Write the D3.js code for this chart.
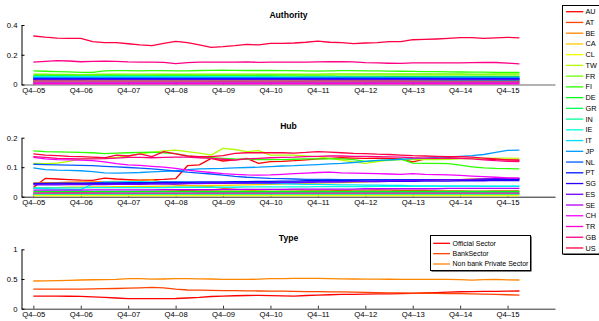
<!DOCTYPE html>
<html><head><meta charset="utf-8">
<script src="https://cdn.jsdelivr.net/npm/d3@7"></script>
<style>body{margin:0;background:#fff}svg{display:block;font-family:"Liberation Sans",Arial,sans-serif}</style>
</head><body><svg id="c" width="599" height="321"></svg>
<script>
const countries = ["AU","AT","BE","CA","CL","TW","FR","FI","DE","GR","IN","IE","IT","JP","NL","PT","SG","ES","SE","CH","TR","GB","US"];
const tickLabels = ["Q4–05","Q4–06","Q4–07","Q4–08","Q4–09","Q4–10","Q4–11","Q4–12","Q4–13","Q4–14","Q4–15"];
const tickQuarter = [0,4,8,12,16,20,24,28,32,36,40];
const typeNames = ["Official Sector","BankSector","Non bank Private Sector"];

// Authority panel, one row per country (Q4-05 ... Q1-16)
const authority = [
/*AU*/[.022, .022,.023,.023,.022, .022,.021,.021,.022, .022,.023,.023,.022, .022,.021,.021,.021, .022,.022,.023,.023, .023,.022,.022,.021, .021,.021,.020,.020, .020,.021,.021,.020, .020,.020,.019,.019, .019,.019,.020,.020, .020],
/*AT*/[.027, .027,.026,.026,.027, .027,.027,.028,.028, .028,.027,.027,.027, .026,.026,.026,.027, .027,.027,.027,.028, .028,.028,.027,.027, .027,.026,.026,.026, .026,.026,.025,.025, .025,.025,.025,.024, .024,.024,.024,.024, .024],
/*BE*/[.018, .018,.018,.019,.019, .019,.019,.020,.020, .020,.020,.019,.019, .019,.019,.018,.018, .018,.018,.018,.018, .017,.017,.017,.017, .017,.017,.017,.016, .016,.016,.016,.016, .016,.016,.016,.015, .015,.015,.015,.015, .015],
/*CA*/[.024, .024,.025,.025,.025, .026,.026,.026,.026, .026,.026,.027,.027, .027,.027,.027,.027, .026,.026,.026,.026, .026,.026,.026,.025, .025,.025,.025,.025, .025,.025,.025,.025, .025,.025,.025,.025, .025,.025,.025,.025, .025],
/*CL*/[.010, .010,.010,.010,.010, .011,.011,.011,.011, .011,.011,.011,.011, .011,.011,.011,.011, .011,.011,.011,.011, .011,.011,.011,.011, .011,.011,.011,.011, .011,.011,.011,.011, .011,.011,.011,.011, .011,.011,.011,.011, .011],
/*TW*/[.062, .062,.061,.061,.060, .061,.062,.062,.063, .063,.063,.063,.063, .063,.064,.064,.064, .064,.064,.064,.064, .064,.064,.064,.064, .065,.065,.065,.065, .065,.065,.065,.065, .065,.065,.065,.065, .065,.065,.065,.065, .065],
/*FR*/[.069, .069,.068,.068,.067, .068,.069,.069,.070, .070,.070,.069,.069, .069,.070,.070,.070, .070,.070,.069,.069, .069,.069,.070,.070, .071,.071,.071,.071, .071,.071,.071,.071, .071,.071,.071,.071, .070,.070,.071,.072, .072],
/*FI*/[.091, .089,.087,.085,.082, .082,.092,.093,.093, .092,.093,.093,.092, .092,.094,.095,.096, .095,.094,.094,.094, .093,.093,.092,.090, .092,.093,.093,.092, .091,.090,.089,.088, .087,.086,.085,.084, .083,.083,.082,.082, .081],
/*DE*/[.058, .058,.057,.057,.056, .056,.057,.057,.058, .058,.058,.058,.057, .057,.057,.057,.057, .057,.057,.057,.057, .056,.056,.056,.056, .056,.055,.055,.055, .055,.055,.055,.055, .055,.054,.054,.054, .054,.054,.054,.054, .054],
/*GR*/[.052, .052,.052,.051,.051, .051,.051,.051,.051, .050,.050,.050,.050, .049,.049,.049,.048, .048,.047,.046,.045, .044,.043,.042,.041, .040,.039,.038,.037, .036,.035,.034,.033, .032,.031,.030,.030, .029,.029,.028,.028, .028],
/*IN*/[.047, .047,.047,.047,.046, .046,.046,.046,.046, .046,.046,.046,.046, .046,.046,.046,.046, .046,.045,.045,.045, .045,.045,.045,.045, .045,.045,.045,.045, .045,.045,.045,.045, .045,.045,.045,.045, .045,.045,.045,.045, .045],
/*IE*/[.055, .055,.055,.055,.055, .055,.054,.054,.054, .054,.053,.053,.053, .053,.052,.052,.052, .052,.051,.051,.051, .051,.050,.050,.050, .050,.049,.049,.049, .049,.048,.048,.048, .048,.047,.047,.047, .047,.046,.046,.046, .046],
/*IT*/[.050, .050,.050,.050,.050, .050,.050,.050,.050, .049,.049,.049,.049, .049,.049,.048,.048, .048,.048,.048,.048, .047,.047,.047,.047, .047,.047,.046,.046, .046,.046,.046,.046, .046,.045,.045,.045, .045,.045,.045,.045, .045],
/*JP*/[.044, .044,.044,.044,.044, .045,.045,.045,.045, .045,.045,.045,.045, .045,.045,.046,.046, .046,.046,.046,.046, .046,.046,.047,.047, .047,.047,.047,.047, .048,.048,.048,.048, .048,.048,.049,.049, .049,.049,.049,.049, .049],
/*NL*/[.041, .041,.041,.041,.041, .041,.041,.041,.041, .041,.041,.041,.041, .041,.041,.041,.041, .041,.041,.041,.041, .041,.041,.041,.041, .041,.041,.041,.041, .041,.041,.041,.041, .041,.041,.041,.041, .041,.041,.041,.041, .041],
/*PT*/[.038, .038,.038,.038,.038, .038,.038,.038,.038, .038,.038,.038,.038, .038,.038,.038,.038, .038,.038,.038,.038, .038,.038,.038,.038, .038,.038,.038,.038, .038,.038,.038,.038, .038,.038,.038,.038, .038,.038,.038,.038, .038],
/*SG*/[.035, .035,.035,.035,.035, .035,.035,.035,.035, .035,.035,.035,.035, .035,.035,.035,.035, .035,.035,.035,.035, .035,.035,.035,.035, .035,.035,.035,.035, .035,.035,.035,.035, .035,.035,.035,.035, .035,.035,.035,.035, .035],
/*ES*/[.031, .031,.031,.031,.031, .031,.031,.031,.031, .031,.031,.031,.031, .031,.031,.031,.031, .031,.031,.031,.031, .031,.031,.031,.031, .031,.031,.031,.031, .031,.031,.031,.031, .031,.031,.031,.031, .031,.031,.031,.031, .031],
/*SE*/[.016, .016,.016,.016,.016, .016,.016,.016,.016, .016,.016,.016,.016, .016,.016,.016,.016, .016,.016,.016,.016, .016,.016,.016,.016, .016,.016,.016,.016, .016,.016,.016,.016, .016,.016,.016,.016, .016,.016,.016,.016, .016],
/*CH*/[.007, .007,.007,.007,.007, .007,.007,.007,.007, .007,.007,.007,.007, .007,.007,.007,.007, .007,.007,.007,.007, .007,.007,.007,.007, .007,.007,.007,.007, .007,.007,.007,.007, .007,.007,.007,.007, .007,.007,.007,.007, .007],
/*TR*/[.004, .004,.004,.004,.004, .004,.004,.004,.004, .004,.004,.004,.004, .004,.004,.004,.004, .004,.004,.004,.004, .004,.004,.004,.004, .004,.004,.004,.004, .004,.004,.004,.004, .004,.004,.004,.004, .004,.004,.004,.004, .004],
/*GB*/[.151, .156,.160,.158,.153, .155,.157,.156,.152, .150,.150,.149,.140, .147,.150,.151,.151, .151,.152,.149,.151, .151,.150,.150,.152, .153,.153,.152,.147, .145,.143,.142,.145, .146,.146,.146,.146, .147,.148,.148,.144, .138],
/*US*/[.326, .318,.312,.310,.310, .288,.281,.281,.274, .266,.261,.277,.290, .281,.266,.250,.254, .261,.270,.266,.277, .277,.279,.284,.292, .284,.281,.275,.279, .281,.288,.288,.301, .303,.306,.310,.315, .315,.310,.313,.317, .313]
];

// Hub panel
const hub = [
/*AU*/[.031, .062,.060,.058,.056, .055,.063,.060,.058, .056,.058,.059,.061, .105,.108,.130,.121, .125,.130,.113,.119, .120,.122,.125,.128, .130,.132,.131,.130, .131,.130,.128,.118, .127,.130,.132,.130, .130,.128,.126,.125, .124],
/*AT*/[.012, .013,.014,.015,.015, .016,.016,.017,.017, .018,.018,.019,.020, .021,.022,.022,.023, .023,.024,.024,.024, .023,.023,.022,.022, .022,.021,.022,.022, .023,.022,.021,.021, .021,.020,.020,.020, .019,.019,.020,.020, .020],
/*BE*/[.047, .048,.048,.049,.050, .050,.051,.052,.053, .055,.058,.048,.040, .038,.036,.034,.028, .025,.022,.020,.018, .017,.016,.015,.015, .014,.014,.013,.013, .013,.012,.012,.012, .012,.011,.011,.011, .011,.010,.010,.010, .010],
/*CA*/[.030, .031,.031,.032,.032, .033,.033,.034,.034, .035,.035,.036,.036, .037,.037,.038,.038, .039,.040,.041,.042, .043,.044,.045,.046, .047,.048,.049,.050, .051,.052,.053,.054, .055,.056,.057,.058, .060,.061,.062,.062, .062],
/*CL*/[.004, .004,.004,.004,.004, .004,.004,.004,.004, .004,.004,.004,.004, .004,.004,.004,.004, .004,.004,.004,.004, .004,.004,.004,.004, .004,.004,.004,.004, .004,.004,.004,.004, .004,.004,.004,.004, .004,.004,.004,.004, .004],
/*TW*/[.113, .112,.114,.120,.128, .131,.132,.133,.138, .145,.150,.155,.158, .153,.148,.141,.164, .160,.153,.156,.141, .141,.141,.138,.136, .130,.124,.118,.113, .119,.124,.126,.127, .126,.126,.127,.128, .129,.130,.131,.131, .130],
/*FR*/[.010, .010,.010,.010,.010, .010,.010,.010,.010, .010,.010,.010,.010, .010,.010,.010,.010, .010,.010,.010,.010, .010,.010,.010,.010, .010,.010,.010,.010, .010,.010,.010,.010, .010,.010,.010,.010, .010,.010,.010,.010, .010],
/*FI*/[.155, .153,.152,.151,.150, .149,.146,.148,.149, .150,.151,.149,.146, .138,.134,.132,.130, .128,.127,.126,.126, .126,.127,.128,.128, .128,.128,.126,.120, .122,.124,.127,.114, .113,.113,.112,.107, .101,.098,.096,.095, .094],
/*DE*/[.018, .018,.018,.018,.018, .018,.018,.018,.018, .018,.018,.018,.018, .018,.018,.018,.018, .018,.018,.018,.018, .018,.018,.018,.018, .018,.018,.018,.018, .018,.018,.018,.018, .018,.018,.018,.018, .018,.018,.018,.018, .018],
/*GR*/[.012, .012,.012,.012,.012, .012,.013,.013,.013, .013,.013,.013,.013, .013,.014,.014,.014, .014,.014,.014,.014, .014,.014,.014,.014, .015,.015,.015,.015, .015,.015,.015,.015, .015,.015,.015,.015, .015,.015,.015,.015, .015],
/*IN*/[.009, .009,.009,.009,.009, .009,.009,.009,.009, .009,.009,.009,.009, .009,.009,.009,.009, .009,.009,.009,.009, .009,.009,.009,.009, .009,.009,.009,.009, .009,.009,.009,.009, .009,.009,.009,.009, .009,.009,.009,.009, .009],
/*IE*/[.030, .030,.030,.030,.030, .031,.031,.031,.031, .031,.031,.031,.032, .032,.032,.032,.032, .032,.033,.033,.033, .033,.033,.033,.034, .034,.034,.034,.034, .035,.035,.035,.035, .035,.035,.036,.036, .036,.036,.036,.036, .036],
/*IT*/[.028, .027,.026,.025,.024, .043,.050,.050,.051, .051,.050,.050,.050, .049,.048,.047,.046, .046,.045,.045,.044, .044,.043,.042,.042, .041,.040,.040,.039, .039,.038,.038,.037, .037,.037,.036,.036, .036,.035,.035,.035, .035],
/*JP*/[.098, .092,.090,.089,.088, .085,.081,.080,.081, .082,.084,.086,.088, .092,.094,.095,.096, .098,.099,.100,.102, .104,.105,.107,.109, .111,.113,.116,.120, .123,.125,.127,.129, .131,.133,.135,.137, .139,.143,.150,.157, .158],
/*NL*/[.110, .109,.108,.107,.106, .105,.103,.101,.099, .097,.094,.091,.087, .083,.080,.077,.073, .069,.066,.064,.062, .061,.060,.059,.059, .059,.058,.058,.058, .058,.058,.058,.058, .058,.058,.058,.058, .058,.058,.058,.059, .060],
/*PT*/[.045, .045,.046,.046,.046, .047,.047,.047,.048, .048,.048,.049,.049, .049,.050,.050,.050, .051,.051,.052,.052, .053,.053,.054,.054, .055,.055,.055,.056, .056,.056,.057,.057, .057,.058,.058,.058, .058,.059,.059,.059, .059],
/*SG*/[.043, .043,.043,.044,.044, .044,.044,.045,.045, .045,.045,.046,.046, .046,.046,.047,.047, .047,.048,.048,.048, .049,.049,.049,.050, .050,.050,.051,.051, .051,.052,.052,.052, .053,.053,.053,.054, .054,.054,.055,.055, .055],
/*ES*/[.040, .040,.040,.041,.041, .041,.041,.042,.042, .042,.043,.043,.043, .044,.044,.045,.045, .046,.046,.047,.047, .048,.048,.049,.050, .050,.051,.052,.052, .053,.054,.055,.055, .056,.057,.058,.058, .059,.060,.061,.062, .062],
/*SE*/[.022, .022,.022,.022,.022, .023,.023,.023,.023, .023,.023,.024,.024, .024,.024,.024,.025, .025,.025,.025,.025, .025,.026,.026,.026, .026,.026,.026,.027, .027,.027,.027,.027, .027,.027,.028,.028, .028,.028,.028,.028, .028],
/*CH*/[.133, .128,.126,.125,.124, .122,.118,.112,.108, .106,.103,.100,.096, .090,.086,.082,.078, .076,.074,.073,.074, .076,.078,.080,.082, .083,.081,.080,.079, .078,.077,.076,.078, .076,.075,.074,.072, .070,.068,.066,.064, .063],
/*TR*/[.012, .012,.012,.012,.012, .012,.012,.012,.012, .012,.012,.012,.012, .012,.012,.012,.012, .012,.012,.012,.012, .012,.012,.012,.012, .012,.012,.012,.012, .012,.012,.012,.012, .012,.012,.012,.012, .012,.012,.012,.012, .012],
/*GB*/[.136, .133,.130,.129,.128, .128,.129,.131,.133, .133,.132,.133,.134, .134,.132,.130,.127, .124,.128,.130,.132, .133,.134,.136,.137, .138,.138,.137,.137, .136,.135,.134,.132, .131,.131,.130,.130, .128,.125,.122,.120, .119],
/*US*/[.145, .141,.139,.137,.136, .134,.132,.141,.138, .145,.136,.153,.145, .138,.136,.136,.139, .147,.149,.149,.149, .149,.148,.150,.153, .151,.149,.147,.146, .144,.143,.141,.139, .138,.137,.136,.136, .134,.131,.128,.125, .124]
];

// Type panel
const officialSector = [.213, .212,.211,.210,.208, .200,.190,.180,.169, .168,.168,.169,.172, .180,.190,.205,.213, .218,.222,.225,.220, .215,.213,.222,.230, .235,.240,.242,.245, .248,.250,.255,.258, .265,.272,.280,.285, .288,.290,.292,.295, .298];
const bankSector = [.331, .330,.329,.330,.331, .334,.338,.340,.345, .350,.358,.350,.330, .315,.312,.308,.305, .303,.300,.298,.297, .295,.292,.288,.286, .284,.282,.279,.276, .272,.268,.265,.262, .260,.258,.256,.254, .250,.245,.240,.235, .230];
const nonBankPrivate = [.466, .470,.474,.478,.483, .487,.490,.494,.508, .508,.497,.500,.506, .506,.502,.500,.495, .494,.492,.497,.506, .507,.509,.511,.509, .506,.503,.500,.498, .497,.496,.495,.494, .495,.494,.493,.490, .480,.488,.492,.485, .483];

const countryColors = countries.map((c,k)=>d3.hsl(360*k/countries.length,1,0.5).formatHex());
const typeColors = [0,1,2].map(k=>d3.hsl(360*k/countries.length,1,0.5).formatHex());

const svg = d3.select("#c");
const x = d3.scaleLinear().domain([-1,44]).range([21.5,555]);

function panel(title, y0, y1, ymax, yTicks, yLabels, series, colors, axisColor, titleY){
  const y = d3.scaleLinear().domain([0,ymax]).range([y0,y1]);
  const g = svg.append("g");
  const xa = g.append("g").attr("transform",`translate(0,${y0})`)
    .call(d3.axisBottom(x).tickValues(tickQuarter).tickFormat((d,i)=>tickLabels[i]).tickSize(-3).tickSizeOuter(0).tickPadding(3));
  xa.select(".domain").attr("stroke",axisColor);
  xa.selectAll(".tick line").attr("stroke","#333");
  const ya = g.append("g").attr("transform","translate(21.5,0)")
    .call(d3.axisLeft(y).tickValues(yTicks).tickFormat((d,i)=>yLabels[i]).tickSize(-3).tickSizeOuter(0).tickPadding(4));
  ya.select(".domain").attr("stroke","#000");
  g.selectAll(".tick text").attr("font-size","7.7px").attr("fill","#000").attr("font-family","Liberation Sans, Arial, sans-serif");
  const line = d3.line().x((d,i)=>x(i)).y(d=>y(d));
  g.append("g").selectAll("path").data(series).join("path")
    .attr("d",line).attr("fill","none").attr("stroke",(d,i)=>colors[i]).attr("stroke-width",1.3).attr("stroke-linejoin","round");
  g.append("text").attr("x",288.5).attr("y",titleY).attr("text-anchor","middle")
    .attr("font-size","8.6px").attr("font-weight","bold").text(title);
}

panel("Authority",84.5,25,0.4,[0,0.2,0.4],["0","0.2","0.4"],authority,countryColors,"#666",18);
panel("Hub",196.7,137.7,0.2,[0,0.1,0.2],["0","0.1","0.2"],hub,countryColors,"#222",129);
panel("Type",308.7,249.3,1,[0,0.5,1],["0","0.5","1"],[officialSector,bankSector,nonBankPrivate],typeColors,"#333",241);

function legend(x0,y0,w,h,names,colors,firstY,step,lx0,lx1,tx,fs){
  const g = svg.append("g");
  g.append("rect").attr("x",x0+1).attr("y",y0+1).attr("width",w).attr("height",h).attr("fill","#000");
  g.append("rect").attr("x",x0).attr("y",y0).attr("width",w).attr("height",h).attr("fill","#fff").attr("stroke","#000").attr("stroke-width",1);
  names.forEach((n,k)=>{
    const yy = firstY + step*k;
    g.append("line").attr("x1",lx0).attr("x2",lx1).attr("y1",yy).attr("y2",yy).attr("stroke",colors[k]).attr("stroke-width",1.3);
    g.append("text").attr("x",tx).attr("y",yy).attr("dy","0.35em").attr("font-size",fs).text(n);
  });
}
legend(562.5,5.5,50,248.5,countries,countryColors,11.7,10.74,566,583.3,585.5,"7.3px");
legend(430.5,235.5,100,35,typeNames,typeColors,243.3,10.35,433.3,450,452.5,"7px");
</script></body></html>
